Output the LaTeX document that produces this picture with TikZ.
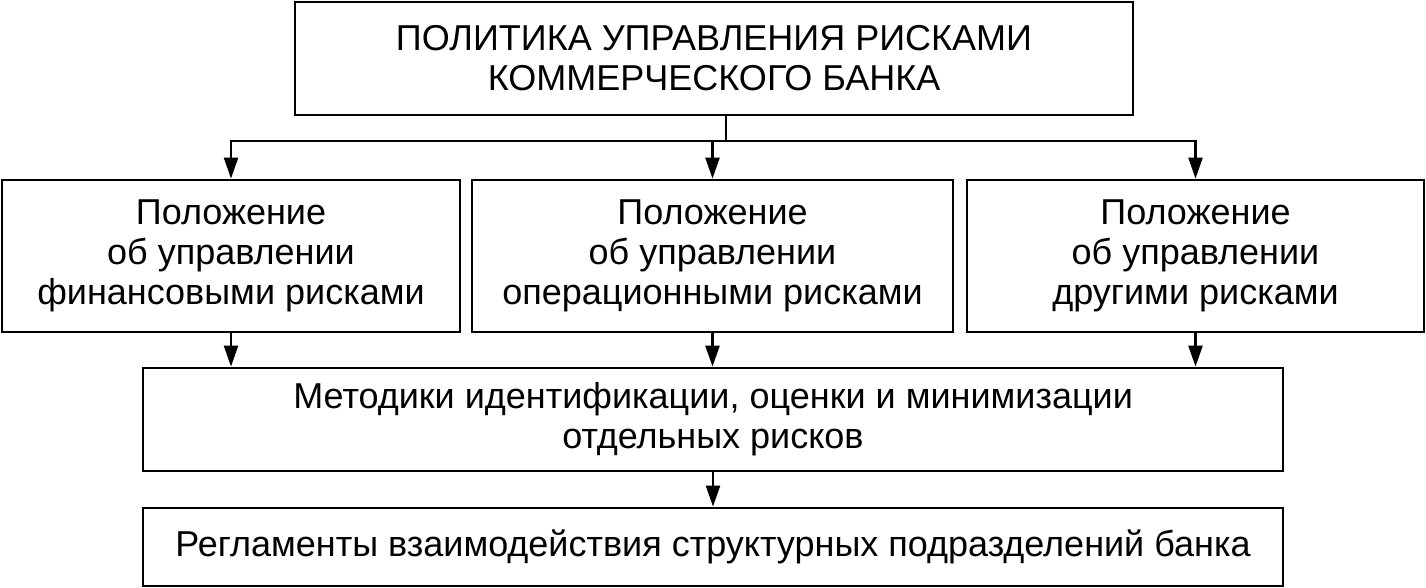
\documentclass[tikz,border=0pt]{standalone}
\usepackage{fontspec}
\setmainfont{Liberation Sans}
\usetikzlibrary{arrows.meta}

\tikzset{
    blocco/.style={draw=black, line width=2.8pt, align=center, inner sep=0pt,
        font=\fontsize{36}{40}\selectfont},
    freccia/.style={line width=2.4pt, -{Triangle[length=21pt,width=14pt]}}
}

\begin{document}
\begin{tikzpicture}[x=1pt, y=-1pt]
    \useasboundingbox (0,0) rectangle (1426,588);

     % Blocchi
    \node[blocco, minimum width=838, minimum height=113] (politika) at (714,58.5)
        {ПОЛИТИКА УПРАВЛЕНИЯ РИСКАМИ\\КОММЕРЧЕСКОГО БАНКА};
    \node[blocco, minimum width=458, minimum height=152] (fin) at (231,256)
        {Положение\\об управлении\\финансовыми рисками};
    \node[blocco, minimum width=481, minimum height=152] (oper) at (712.5,256)
        {Положение\\об управлении\\операционными рисками};
    \node[blocco, minimum width=457, minimum height=152] (drugie) at (1195.5,256)
        {Положение\\об управлении\\другими рисками};
    \node[blocco, minimum width=1140, minimum height=103] (metodiki) at (713,419.5)
        {Методики идентификации, оценки и минимизации\\отдельных рисков};
    \node[blocco, minimum width=1140, minimum height=78] (reglament) at (713,547)
        {Регламенты взаимодействия структурных подразделений банка};

     % Collegamenti
    \coordinate (snodo) at (726,141);
    \draw[line width=2.4pt] (politika.south -| snodo) -- (snodo);
    \draw[freccia] (snodo) -| (fin.north);
    \draw[freccia] (snodo) -| (oper.north);
    \draw[freccia] (snodo) -| (drugie.north);
    \draw[freccia] (fin.south) -- (fin.south |- metodiki.north);
    \draw[freccia] (oper.south) -- (oper.south |- metodiki.north);
    \draw[freccia] (drugie.south) -- (drugie.south |- metodiki.north);
    \draw[freccia] (metodiki.south) -- (reglament.north);
\end{tikzpicture}
\end{document}
